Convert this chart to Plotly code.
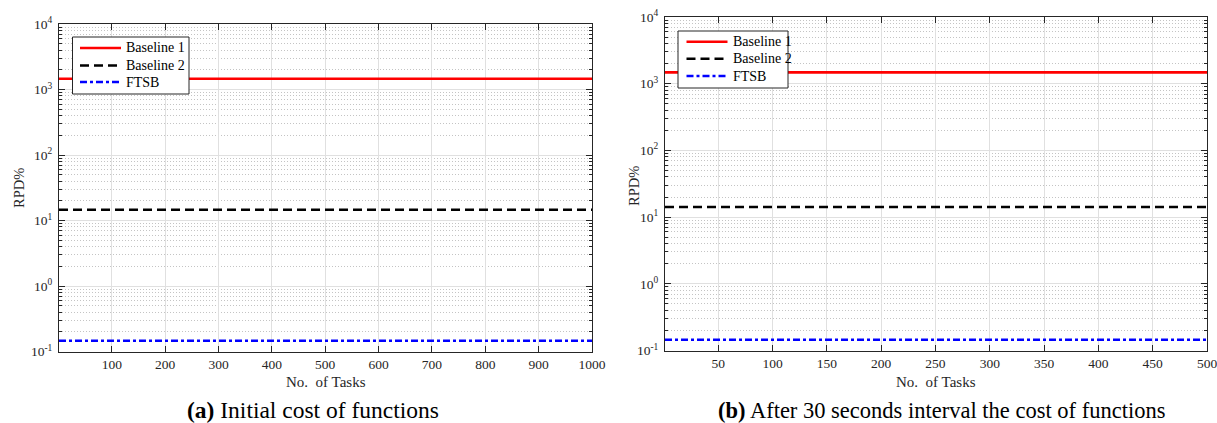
import plotly.graph_objects as go

# ---- data ----
tasks_a = [1, 1000]
tasks_b = [1, 500]
baseline1_a = [1460, 1460]
baseline2_a = [14.6, 14.6]
ftsb_a = [0.146, 0.146]
baseline1_b = [1480, 1480]
baseline2_b = [14.2, 14.2]
ftsb_b = [0.145, 0.145]
series_names = ["Baseline 1", "Baseline 2", "FTSB"]
xticks_a = [100, 200, 300, 400, 500, 600, 700, 800, 900, 1000]
xticks_b = [50, 100, 150, 200, 250, 300, 350, 400, 450, 500]
yticks = [0.1, 1, 10, 100, 1000, 10000]
ytick_text = ["10<sup>-1</sup>", "10<sup>0</sup>", "10<sup>1</sup>", "10<sup>2</sup>",
              "10<sup>3</sup>", "10<sup>4</sup>"]
captions = ["<b>(a)</b> Initial cost of functions",
            "<b>(b)</b> After 30 seconds interval the cost of functions"]

FONT = "Liberation Serif, Times New Roman, serif"
W, H = 1217, 423
colors = ["#ff0000", "#000000", "#0000ff"]
dashes = ["solid", "9px,5px", "7px,3px,3px,3px"]
LW = 2.6

fig = go.Figure()
panels = [
    ("x", "y", tasks_a, [baseline1_a, baseline2_a, ftsb_a]),
    ("x2", "y2", tasks_b, [baseline1_b, baseline2_b, ftsb_b]),
]
for xa, ya, xs, ys_list in panels:
    for name, ys, c, d in zip(series_names, ys_list, colors, dashes):
        fig.add_trace(go.Scatter(x=xs, y=ys, mode="lines", name=name,
                                 line=dict(color=c, width=LW, dash=d),
                                 xaxis=xa, yaxis=ya, showlegend=False))

axis_common = dict(showline=True, linecolor="#262626", linewidth=1, mirror="allticks",
                   ticks="inside", ticklen=6, tickcolor="#262626",
                   showgrid=True, gridcolor="#e0e0e0", gridwidth=1, zeroline=False,
                   tickfont=dict(family=FONT, size=13.5, color="#262626"))

xdom_a = [59 / W, 592 / W]
xdom_b = [665 / W, 1207 / W]
ydom_a = [1 - 351.5 / H, 1 - 24 / H]
ydom_b = [1 - 350.5 / H, 1 - 17 / H]

def xaxis(dom, rng, ticks, anchor):
    return dict(axis_common, domain=dom, range=rng, tickvals=ticks, anchor=anchor,
                ticklabelstandoff=0, ticklabeloverflow="allow")

def yaxis(dom, anchor):
    return dict(axis_common, domain=dom, type="log", range=[-1, 4], tickvals=yticks,
                ticktext=ytick_text, anchor=anchor, ticklabelstandoff=3,
                minor=dict(dtick="D1", ticks="inside", ticklen=3, tickcolor="#262626",
                           showgrid=True, gridcolor="#c4c4c4", griddash="1px,2px",
                           gridwidth=1))

fig.update_layout(
    width=W, height=H, margin=dict(l=0, r=0, t=0, b=0, autoexpand=False),
    paper_bgcolor="white", plot_bgcolor="white",
    font=dict(family=FONT, color="#262626"),
    xaxis=xaxis(xdom_a, [1, 1000], xticks_a, "y"),
    yaxis=yaxis(ydom_a, "x"),
    xaxis2=xaxis(xdom_b, [1, 500], xticks_b, "y2"),
    yaxis2=yaxis(ydom_b, "x2"),
    showlegend=False,
)

# ---- custom legend boxes (pixel positions) ----
legend_boxes = [
    dict(x0=72.5, x1=189, y0=37, y1=94, lx0=80, lx1=121, ys=[48, 65.5, 82], tx=124),
    dict(x0=678, x1=788, y0=31, y1=88, lx0=686.5, lx1=727.5, ys=[41.7, 58.7, 76], tx=731),
]
shapes = []
ann = []
for lb in legend_boxes:
    shapes.append(dict(type="rect", xref="paper", yref="paper",
                       x0=lb["x0"] / W, x1=lb["x1"] / W,
                       y0=1 - lb["y1"] / H, y1=1 - lb["y0"] / H,
                       line=dict(color="#262626", width=1), fillcolor="white", layer="above"))
    for name, yy, c, d in zip(series_names, lb["ys"], colors, dashes):
        shapes.append(dict(type="line", xref="paper", yref="paper",
                           x0=lb["lx0"] / W, x1=lb["lx1"] / W,
                           y0=1 - yy / H, y1=1 - yy / H,
                           line=dict(color=c, width=LW, dash=d), layer="above"))
        ann.append(dict(x=lb["tx"] / W, y=1 - yy / H, xref="paper", yref="paper",
                        text=name, showarrow=False, xanchor="left", yanchor="middle",
                        font=dict(family=FONT, size=14, color="#000000")))

for cx, cy_label, lx, cap, capx, capsize in [
    ((59 + 592) / 2, 188, 19, captions[0], 312.5, 23.5),
    ((665 + 1207) / 2, 186, 634, captions[1], 941, 22.5),
]:
    ann.append(dict(x=cx / W, y=1 - 381.5 / H, xref="paper", yref="paper",
                    text="No.  of Tasks", showarrow=False, xanchor="center", yanchor="middle",
                    font=dict(family=FONT, size=15, color="#262626")))
    ann.append(dict(x=lx / W, y=1 - cy_label / H, xref="paper", yref="paper",
                    text="RPD%", showarrow=False, textangle=-90, xanchor="center",
                    yanchor="middle", font=dict(family=FONT, size=14.5, color="#262626")))
    ann.append(dict(x=capx / W, y=1 - 410 / H, xref="paper", yref="paper",
                    text=cap, showarrow=False, xanchor="center", yanchor="middle",
                    font=dict(family=FONT, size=capsize, color="#000000")))
fig.update_layout(annotations=ann, shapes=shapes)

fig.write_html(
    "out.html",
    config={"displayModeBar": False},
    post_script="document.body.style.margin='0';document.body.style.padding='0';"
                "document.body.style.overflow='hidden';",
)
